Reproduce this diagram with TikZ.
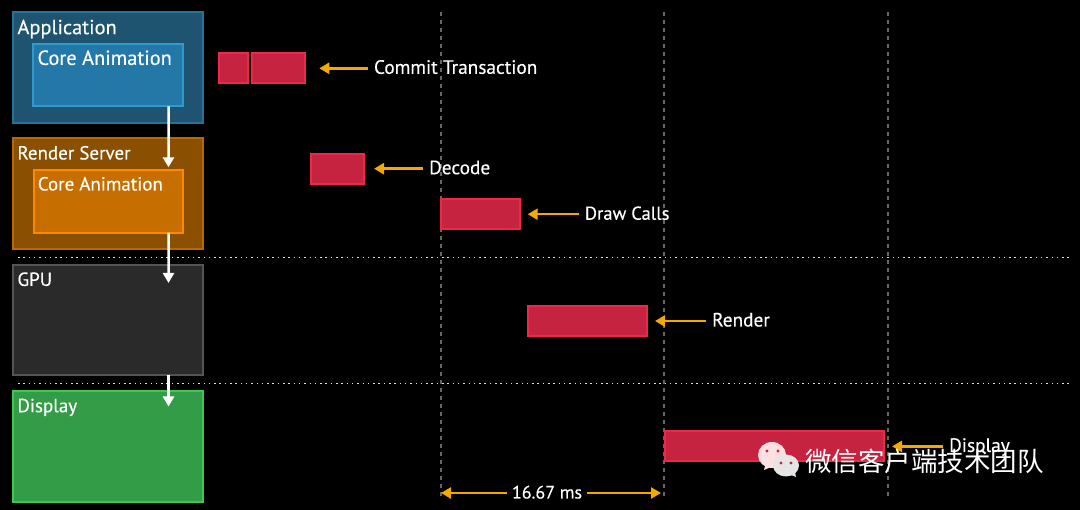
\documentclass[tikz,border=0pt]{standalone}
\usepackage{fontspec}
\setmainfont{PT Sans}
\newfontfamily\labelfont[FakeBold=0.3]{PT Sans}
\newfontfamily\cjkfont{Noto Sans CJK SC}
\usetikzlibrary{arrows.meta,positioning}
\definecolor{appback}{HTML}{1F5470}
\definecolor{appedge}{HTML}{27729A}
\definecolor{appcore}{HTML}{2478A8}
\definecolor{appline}{HTML}{2F9AD0}
\definecolor{srvback}{HTML}{8A5000}
\definecolor{srvedge}{HTML}{B86A00}
\definecolor{srvcore}{HTML}{C66F00}
\definecolor{srvline}{HTML}{FF8800}
\definecolor{gpuback}{HTML}{2A2A2A}
\definecolor{gpuedge}{HTML}{555555}
\definecolor{dspback}{HTML}{339C46}
\definecolor{dspedge}{HTML}{3EC850}
\definecolor{barback}{HTML}{C5233F}
\definecolor{baredge}{HTML}{F02848}
\definecolor{pointer}{HTML}{F5A800}
\tikzset{
	panel/.style={draw,line width=2pt,anchor=north west,outer sep=0pt,inner sep=0pt},
	barbox/.style={panel,draw=baredge,fill=barback,minimum height=30pt},
	title/.style={text=white,font=\labelfont\fontsize{19}{19}\selectfont,inner sep=0pt,text height=17pt,text depth=4pt},
	caption/.style={text=white,font=\labelfont\fontsize{19.3}{19}\selectfont,inner sep=6pt,text height=15pt,text depth=4pt},
	flow/.style={white,line width=2.5pt,-{Triangle[length=10pt,width=11pt]}},
	callout/.style={pointer,line width=2.5pt,-{Triangle[length=10pt,width=11pt]},shorten >=8pt},
	gridline/.style={white!40!black,line width=2pt,dash pattern=on 4.5pt off 3.5pt},
	dotline/.style={white!88!black,line width=1.5pt,dash pattern=on 1.5pt off 3.8pt},
}
\begin{document}
\begin{tikzpicture}[x=1pt,y=-1pt,node distance=59pt]
	\fill[black] (0,0) rectangle (1080,510);
	% frame lines
	\foreach \gx in {440.5,664,887.5}
		\draw[gridline] (\gx,12) -- (\gx,500);
	\foreach \gy in {257.5,383.5}
		\draw[dotline] (18,\gy) -- (1070,\gy);
	% stages
	\node[panel,draw=appedge,fill=appback,minimum width=189.4pt,minimum height=111pt] (app) at (13.3,12) {};
	\node[panel,draw=appline,fill=appcore,minimum width=149.4pt,minimum height=62.6pt] (app_ca) at (33.3,43.7) {};
	\node[panel,draw=srvedge,fill=srvback,minimum width=189.4pt,minimum height=110.7pt] (srv) at (13.3,138.3) {};
	\node[panel,draw=srvline,fill=srvcore,minimum width=148.7pt,minimum height=62.4pt] (srv_ca) at (34,170.3) {};
	\node[panel,draw=gpuedge,fill=gpuback,minimum width=189.4pt,minimum height=110.6pt] (gpu) at (13.3,264.7) {};
	\node[panel,draw=dspedge,fill=dspback,minimum width=189.4pt,minimum height=111pt] (dsp) at (13.3,391) {};
	\node[title,font=\labelfont\fontsize{20.4}{20}\selectfont,below right=5pt and 4pt of app.north west] (app_t) {Application};
	\node[title,font=\labelfont\fontsize{20.4}{20}\selectfont,below right=4pt and 4pt of app_ca.north west] (app_ca_t) {Core Animation};
	\node[title,below right=4pt and 4pt of srv.north west] (srv_t) {Render Server};
	\node[title,below right=3pt and 3.6pt of srv_ca.north west] (srv_ca_t) {Core Animation};
	\node[title,below right=4pt and 4pt of gpu.north west] (gpu_t) {GPU};
	\node[title,below right=4pt and 4pt of dsp.north west] (dsp_t) {Display};
	% flow ends
	\coordinate (gpu_in) at (168.5,283);
	\coordinate (dsp_in) at (168.5,406.5);
	\draw[flow] ([xshift=60.5pt]app_ca.south) -- ([xshift=60.15pt,yshift=3pt]srv_ca.north);
	\draw[flow] ([xshift=60.15pt]srv_ca.south) -- (gpu_in);
	\draw[flow] (gpu_in |- gpu.south) -- (dsp_in);
	% bars
	\node[barbox,minimum width=29.4pt] (b_c1) at (218.7,53.3) {};
	\node[barbox,minimum width=53.8pt] (b_c2) at (251.5,53.3) {};
	\node[barbox,minimum width=53pt] (b_dec) at (311,153.7) {};
	\node[barbox,minimum width=78.4pt] (b_draw) at (441.3,199.2) {};
	\node[barbox,minimum width=119pt] (b_rnd) at (528,306) {};
	\node[barbox,minimum width=219pt] (b_dsp) at (665,431.4) {};
	% captions
	\node[caption,right=62.5pt of b_c2] (c_c) {Commit Transaction};
	\node[caption,right=of b_dec] (c_dec) {Decode};
	\node[caption,font=\labelfont\fontsize{18.6}{19}\selectfont,right=of b_draw] (c_draw) {Draw Calls};
	\node[caption,right=of b_rnd] (c_rnd) {Render};
	\node[caption,right=of b_dsp] (c_dsp) {Display};
	\path[callout]
		(c_c) edge [shorten >=14pt] (b_c2)
		(c_dec) edge [shorten >=10pt] (b_dec)
		(c_draw) edge (b_draw)
		(c_rnd) edge (b_rnd)
		(c_dsp) edge (b_dsp);
	% span
	\coordinate (span_l) at (441,493);
	\coordinate (span_r) at (661,493);
	\node[caption,font=\labelfont\fontsize{18}{18}\selectfont,inner sep=5pt] (span) at (547,493) {16.67 ms};
	\path[callout,shorten >=0pt]
		(span) edge (span_l)
		(span) edge (span_r);
	% mark
	\fill[white!88!red] (772,455) ellipse (14 and 13);
	\fill[white!88!red] (765,466) -- (764,470) -- (771,467) -- cycle;
	\fill[white!90!black] (786,465.5) ellipse (13 and 11);
	\fill[white!90!black] (791,475) -- (796,477) -- (795,472) -- cycle;
	\foreach \mx/\my in {767/451,778/451,781/463,791/463}
		\fill[barback] (\mx,\my) circle (1.7);
	\node[text=white,font=\cjkfont\fontsize{26.5}{26.5}\selectfont,inner sep=0pt,anchor=west] (mark) at (805,461) {微信客户端技术团队};
\end{tikzpicture}
\end{document}
